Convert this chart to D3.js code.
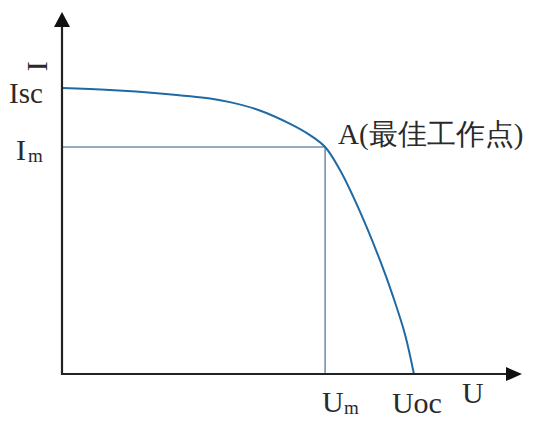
<!DOCTYPE html>
<html><head><meta charset="utf-8">
<script src="https://cdn.jsdelivr.net/npm/d3@7/dist/d3.min.js"></script>
<style>body{margin:0;background:#fff}svg{display:block}</style>
</head><body>
<script>
// I-V curve samples (U, I) in arbitrary units
const curveU = [0, 10.4, 21.3, 32.2, 36.5, 43.0, 49.6, 53.9, 57.2, 60.4, 64.8, 69.1, 72.0, 74.6, 76.5];
const curveI = [79.0, 78.45, 77.5, 76.1, 75.1, 72.8, 69.1, 66.0, 62.7, 56.4, 44.8, 31.5, 21.3, 10.8, 0];
const Um = 57.2, Im = 62.7, Isc = 79.0, Uoc = 76.5;
const labels = {I: "I", Isc: "Isc", Im: ["I", "m"], A: "A(最佳工作点)", Um: ["U", "m"], Uoc: "Uoc", U: "U"};

const W = 543, H = 421;
const svg = d3.select("body").append("svg").attr("width", W).attr("height", H);
const x = d3.scaleLinear().domain([0, 100]).range([62, 522]);
const y = d3.scaleLinear().domain([0, 100]).range([374, 12]);
const font = "'Liberation Serif','Times New Roman',serif";
const txt = "#2a2a2a";

// guide lines
svg.append("line").attr("x1", x(0)).attr("x2", x(Um)).attr("y1", y(Im)).attr("y2", y(Im))
  .attr("stroke", "#7590b0").attr("stroke-width", 1.6);
svg.append("line").attr("x1", x(Um)).attr("x2", x(Um)).attr("y1", y(Im)).attr("y2", y(0))
  .attr("stroke", "#7590b0").attr("stroke-width", 1.6);

// curve
const pts = curveU.map((u, i) => [u, curveI[i]]);
svg.append("path").datum(pts)
  .attr("d", d3.line().x(d => x(d[0])).y(d => y(d[1])).curve(d3.curveCatmullRom.alpha(0.5)))
  .attr("fill", "none").attr("stroke", "#1f6aa5").attr("stroke-width", 2);

// axes
svg.append("line").attr("x1", x(0)).attr("x2", x(0)).attr("y1", y(0) + 1).attr("y2", y(100) + 10)
  .attr("stroke", "#222").attr("stroke-width", 2.2);
svg.append("line").attr("x1", x(0) - 1).attr("x2", x(100) - 10).attr("y1", y(0)).attr("y2", y(0))
  .attr("stroke", "#222").attr("stroke-width", 2.2);
svg.append("path").attr("d", `M${x(0)},${y(100)} L${x(0) - 8},${y(100) + 15} L${x(0) + 8},${y(100) + 15}Z`).attr("fill", "#111");
svg.append("path").attr("d", `M${x(100)},${y(0)} L${x(100) - 16},${y(0) - 7} L${x(100) - 16},${y(0) + 7}Z`).attr("fill", "#111");

function t(s, xx, yy, size, anchor) {
  return svg.append("text").attr("x", xx).attr("y", yy).attr("font-family", font)
    .attr("font-size", size).attr("fill", txt).attr("text-anchor", anchor || "start").text(s);
}
// rotated I
svg.append("text").attr("transform", `translate(${x(0) - 15},${y(85)}) rotate(-90)`)
  .attr("font-family", font).attr("font-size", 30).attr("fill", txt).attr("text-anchor", "middle").text(labels.I);
t(labels.Isc, 9, y(Isc) + 15, 29);
t(labels.Im[0], 16, y(Im) + 13, 30);
t(labels.Im[1], 28, y(Im) + 15, 19);
t(labels.A, x(Um) + 13, y(Im) - 3, 29);
t(labels.Um[0], x(Um) - 3, 412, 30);
t(labels.Um[1], x(Um) + 19, 414, 19);
t(labels.Uoc, x(Uoc) - 22, 413, 30);
t(labels.U, 462, 403, 30);
</script>
</body></html>
